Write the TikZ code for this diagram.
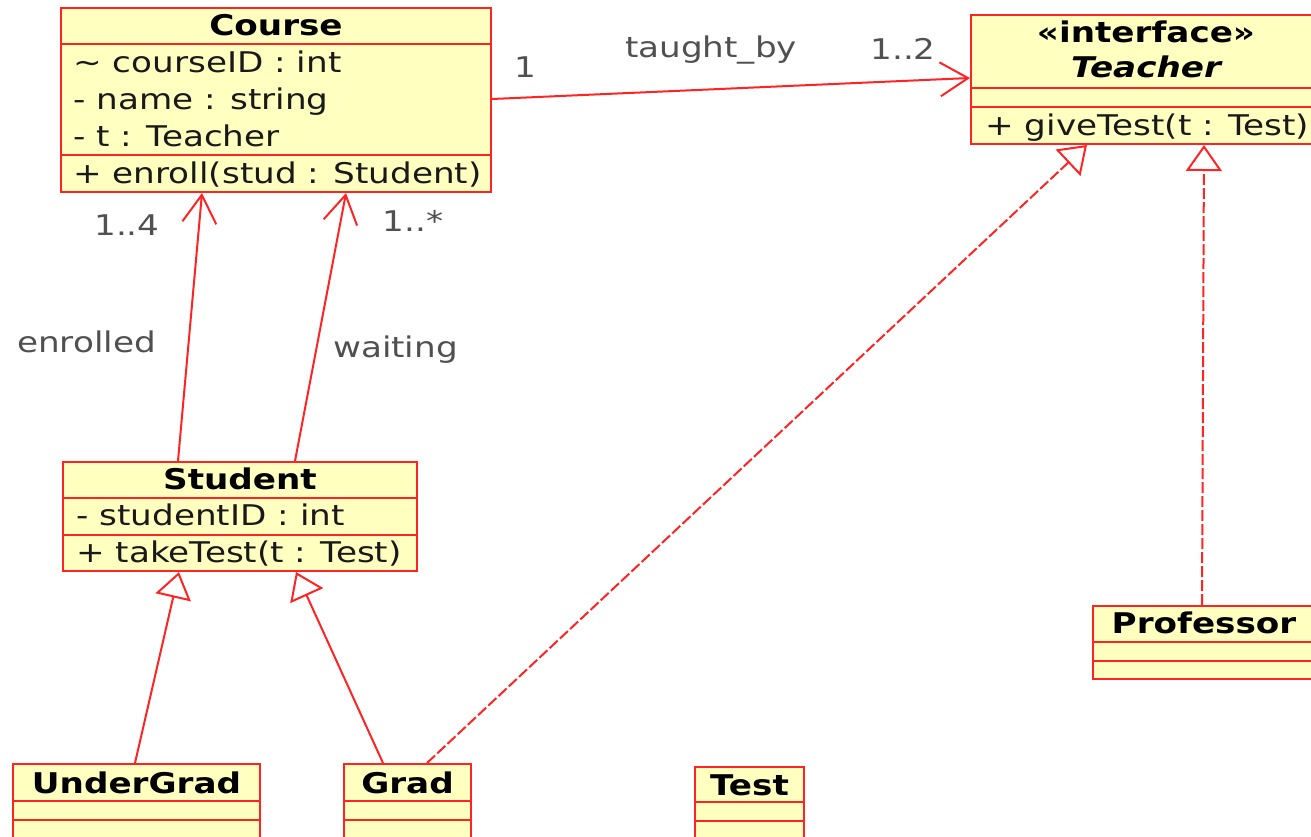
\documentclass[tikz,border=0pt]{standalone}
\usepackage{fontspec}
\setmainfont{DejaVu Sans}[FakeStretch=1.2, BoldFont={DejaVu Sans Bold}, ItalicFont={DejaVu Sans Oblique}, BoldItalicFont={DejaVu Sans Bold Oblique}]
\usetikzlibrary{arrows.meta,fit,calc}
\definecolor{umlred}{RGB}{255,35,35}
\definecolor{umlfill}{RGB}{255,255,192}
\definecolor{lblgray}{RGB}{80,80,80}
\definecolor{txtdark}{RGB}{25,25,25}
\begin{document}
\begin{tikzpicture}[x=0.5pt,y=-0.5pt,
  every node/.style={font=\fontsize{14.25pt}{17pt}\selectfont},
  classbox/.style={draw=umlred, fill=umlfill, line width=1pt, inner sep=0pt, rectangle},
  sepline/.style={draw=umlred, line width=1pt},
  ttl/.style={anchor=base, inner sep=0pt, text=black, font=\fontsize{14.25pt}{17pt}\selectfont\bfseries},
  mem/.style={anchor=base west, inner sep=0pt, text=txtdark},
  lbl/.style={anchor=base, inner sep=0pt, text=lblgray},
  assoc/.style={draw=umlred, line width=1pt, -{Straight Barb[length=14pt,width=17pt]}},
  gen/.style={draw=umlred, line width=1pt, -{Triangle[open,length=13pt,width=18pt]}},
  real/.style={gen, dash pattern=on 5.5pt off 1.5pt},
]
\useasboundingbox (0,0) rectangle (1311,836);
\clip (0,0) rectangle (1311,836);

% Course
\node[classbox, fit={(61,8) (491,192)}] (course) {};
\draw[sepline] (61,44) -- (491,44);
\draw[sepline] (61,155) -- (491,155);
\node[ttl] (courseT) at (276,35) {Course};
\node[mem] (courseA1) at (73,72) {\textasciitilde{} courseID : int};
\node[mem] (courseA2) at (73,109) {- name : string};
\node[mem] (courseA3) at (73,146) {- t : Teacher};
\node[mem] (courseM1) at (73,183) {+ enroll(stud : Student)};

% Teacher
\node[classbox, fit={(971,15) (1321,144)}] (teacher) {};
\draw[sepline] (971,88) -- (1321,88);
\draw[sepline] (971,107) -- (1321,107);
\node[ttl] (teacherS) at (1146,42) {«interface»};
\node[ttl, font=\fontsize{14.25pt}{17pt}\selectfont\bfseries\itshape] (teacherT) at (1146,77) {Teacher};
\node[mem] (teacherM1) at (985,135) {+ giveTest(t : Test)};

% Student
\node[classbox, fit={(63,462) (417,571)}] (student) {};
\draw[sepline] (63,498) -- (417,498);
\draw[sepline] (63,535) -- (417,535);
\node[ttl] (studentT) at (240,489) {Student};
\node[mem] (studentA1) at (76,525) {- studentID : int};
\node[mem] (studentM1) at (76,562) {+ takeTest(t : Test)};

% UnderGrad
\node[classbox, fit={(13,764) (260,850)}] (undergrad) {};
\draw[sepline] (13,801) -- (260,801);
\draw[sepline] (13,820) -- (260,820);
\node[ttl] (undergradT) at (136.5,793) {UnderGrad};

% Grad
\node[classbox, fit={(344,764) (471,850)}] (grad) {};
\draw[sepline] (344,801) -- (471,801);
\draw[sepline] (344,820) -- (471,820);
\node[ttl] (gradT) at (407.5,793) {Grad};

% Test
\node[classbox, fit={(695,767) (804,850)}] (test) {};
\draw[sepline] (695,802) -- (804,802);
\draw[sepline] (695,821) -- (804,821);
\node[ttl] (testT) at (749.5,795) {Test};

% Professor
\node[classbox, fit={(1093,606) (1315,679)}] (professor) {};
\draw[sepline] (1093,642) -- (1315,642);
\draw[sepline] (1093,661) -- (1315,661);
\node[ttl] (professorT) at (1204,633) {Professor};

% Associations
\draw[assoc] ([yshift=-46pt]course.north east) -- ([yshift=-32pt]teacher.north west);
\node[lbl] (l1) at (525,77) {1};
\node[lbl] (ltaught) at (711,57) {taught\_by};
\node[lbl] (l12) at (903,59) {1..2};

\draw[assoc] ([xshift=58pt]student.north west) -- ([xshift=71pt]course.south west);
\node[lbl] (l14) at (127,235) {1..4};
\node[lbl] (lenrolled) at (86.5,352) {enrolled};

\draw[assoc] ([xshift=116.5pt]student.north west) -- ([xshift=143pt]course.south west);
\node[lbl] (l1s) at (413,231) {1..*};
\node[lbl] (lwaiting) at (395.5,357) {waiting};

% Generalizations
\draw[gen] ([xshift=61.5pt]undergrad.north west) -- ([xshift=58.5pt]student.south west);
\draw[gen] ([xshift=20pt]grad.north west) -- ([xshift=117pt]student.south west);

% Realizations
\draw[real] ([xshift=42pt]grad.north west) -- ([xshift=58.5pt]teacher.south west);
\draw[real] ([xshift=55pt]professor.north west) -- ([xshift=117pt]teacher.south west);
\end{tikzpicture}
\end{document}
